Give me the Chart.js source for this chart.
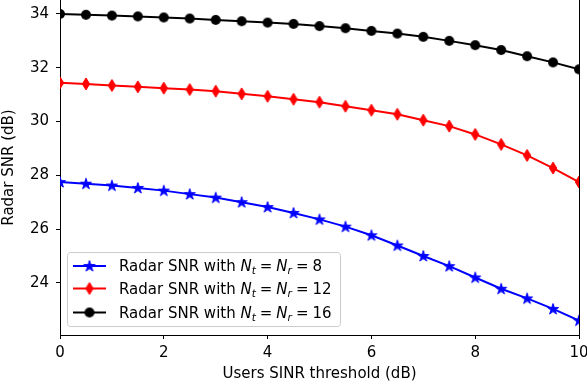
<!DOCTYPE html>
<html><head><meta charset="utf-8">
<script src="https://cdn.jsdelivr.net/npm/chart.js@4.4.0/dist/chart.umd.min.js"></script>
<style>html,body{margin:0;padding:0;background:#fff;}canvas{display:block;}</style>
</head><body>
<div style="width:587px;height:389px;"><canvas id="c" width="587" height="389"></canvas></div>
<script>
const xValues = [0,0.5,1,1.5,2,2.5,3,3.5,4,4.5,5,5.5,6,6.5,7,7.5,8,8.5,9,9.5,10];
const snr8  = [27.75,27.69,27.62,27.53,27.43,27.30,27.17,27.00,26.82,26.60,26.36,26.09,25.77,25.39,25.00,24.62,24.20,23.78,23.42,23.03,22.60];
const snr12 = [31.44,31.40,31.34,31.29,31.24,31.19,31.13,31.03,30.94,30.83,30.72,30.57,30.42,30.27,30.05,29.83,29.52,29.15,28.74,28.27,27.75];
const snr16 = [34.00,33.97,33.94,33.91,33.87,33.83,33.78,33.73,33.68,33.63,33.55,33.47,33.37,33.27,33.15,33.00,32.84,32.66,32.43,32.20,31.94];
const xTicks = [0,2,4,6,8,10];
const yTicks = [24,26,28,30,32,34];
const antennaCounts = ['8','12','16'];
const legendPrefix = 'Radar SNR with ';
const xTitle = 'Users SINR threshold (dB)';
const yTitle = 'Radar SNR (dB)';

const FONT = '"DejaVu Sans", sans-serif';

function makeStar(color){
  const c = document.createElement('canvas'); c.width = 14; c.height = 14;
  const g = c.getContext('2d'); const R = 5.8, r = R*0.381966;
  g.beginPath();
  for(let i=0;i<10;i++){
    const a = -Math.PI/2 + i*Math.PI/5; const rr = i%2===0?R:r;
    const px = 7 + rr*Math.cos(a), py = 7.4 + rr*Math.sin(a);
    if(i===0) g.moveTo(px,py); else g.lineTo(px,py);
  }
  g.closePath(); g.fillStyle = color; g.fill(); g.strokeStyle = color; g.lineWidth = 1; g.stroke();
  return c;
}
function makeDiamond(color){
  const c = document.createElement('canvas'); c.width = 10; c.height = 14;
  const g = c.getContext('2d');
  g.beginPath(); g.moveTo(5,1); g.lineTo(8.7,7); g.lineTo(5,13); g.lineTo(1.3,7); g.closePath();
  g.fillStyle = color; g.fill(); g.strokeStyle = color; g.lineWidth = 1; g.stroke();
  return c;
}
function makeCircle(color){
  const c = document.createElement('canvas'); c.width = 12; c.height = 12;
  const g = c.getContext('2d');
  g.beginPath(); g.arc(6,6,5,0,Math.PI*2); g.fillStyle = color; g.fill();
  return c;
}
const markers = [makeStar('#0000ff'), makeDiamond('#ff0000'), makeCircle('#000000')];
const colors = ['#0000ff','#ff0000','#000000'];
const series = [snr8, snr12, snr16];

const datasets = series.map((s,i)=>({
  label: legendPrefix + 'Nt = Nr = ' + antennaCounts[i],
  data: xValues.map((x,j)=>({x:x, y:s[j]})),
  borderColor: colors[i], backgroundColor: colors[i],
  borderWidth: 2, pointStyle: markers[i], pointRadius: 5, pointHoverRadius: 5,
  tension: 0, fill: false
}));

const legendPlugin = {
  id: 'mplLegend',
  afterDatasetsDraw(chart){
    const ctx = chart.ctx; ctx.save();
    const bx = 67.5, by = 252.5, bw = 273, bh = 74, rad = 3;
    ctx.beginPath();
    ctx.moveTo(bx+rad,by); ctx.lineTo(bx+bw-rad,by); ctx.quadraticCurveTo(bx+bw,by,bx+bw,by+rad);
    ctx.lineTo(bx+bw,by+bh-rad); ctx.quadraticCurveTo(bx+bw,by+bh,bx+bw-rad,by+bh);
    ctx.lineTo(bx+rad,by+bh); ctx.quadraticCurveTo(bx,by+bh,bx,by+bh-rad);
    ctx.lineTo(bx,by+rad); ctx.quadraticCurveTo(bx,by,bx+rad,by); ctx.closePath();
    ctx.fillStyle = 'rgba(255,255,255,0.8)'; ctx.fill();
    ctx.strokeStyle = '#cccccc'; ctx.lineWidth = 1; ctx.stroke();
    const rows = [266, 288.5, 312.5];
    const bases = [270.5, 293.8, 317.7];
    rows.forEach((cy,i)=>{
      ctx.strokeStyle = colors[i]; ctx.lineWidth = 2;
      ctx.beginPath(); ctx.moveTo(73, cy); ctx.lineTo(106, cy); ctx.stroke();
      const m = markers[i]; ctx.drawImage(m, 89.5 - m.width/2, cy - m.height/2);
      ctx.fillStyle = '#000'; ctx.textBaseline = 'alphabetic'; ctx.textAlign = 'left';
      const base = bases[i]; let x = 119;
      const normal = '15px ' + FONT, ital = 'italic 15px ' + FONT, sub = 'italic 10.5px ' + FONT;
      const put = (t, f, dy) => { ctx.font = f; ctx.fillText(t, x, base + (dy||0)); x += ctx.measureText(t).width; };
      put(legendPrefix, normal);
      put('N', ital); put('t', sub, 3);
      x += 4; put('=', normal); x += 4;
      put('N', ital); put('r', sub, 3);
      x += 4; put('=', normal); x += 4;
      put(antennaCounts[i], normal);
    });
    ctx.restore();
  }
};
const rightSpine = {
  id: 'rightSpine',
  afterDraw(chart){
    const a = chart.chartArea, ctx = chart.ctx; ctx.save();
    ctx.strokeStyle = '#000'; ctx.lineWidth = 1;
    ctx.beginPath(); ctx.moveTo(Math.round(a.right)+0.5, a.top); ctx.lineTo(Math.round(a.right)+0.5, a.bottom); ctx.stroke();
    ctx.restore();
  }
};
const fixTop = {
  id: 'fixTop',
  afterLayout(chart){
    const a = chart.chartArea; const y = chart.scales.y;
    a.top = 0; a.height = a.bottom - a.top;
    y.top = 0; y.height = y.bottom - y.top; y.configure();
  }
};

Chart.defaults.font.family = FONT;
Chart.defaults.font.size = 15;
Chart.defaults.color = '#000';

new Chart(document.getElementById('c'), {
  type: 'line',
  data: { datasets },
  plugins: [fixTop, legendPlugin, rightSpine],
  options: {
    responsive: false, animation: false, devicePixelRatio: 1,
    layout: { padding: 0 },
    plugins: { legend: { display: false }, tooltip: { enabled: false } },
    scales: {
      x: {
        type: 'linear', min: 0, max: 10,
        afterBuildTicks: s => { s.ticks = xTicks.map(v=>({value:v})); },
        afterFit: s => { s.height = 54; s.paddingRight = 8; s.paddingLeft = 0; },
        ticks: { padding: 5, maxRotation: 0, autoSkip: false, callback: v => String(v) },
        grid: { display: true, drawOnChartArea: false, drawTicks: true, tickLength: 4, color: '#000', lineWidth: 1 },
        border: { display: true, color: '#000', width: 1 },
        title: { display: true, text: xTitle, padding: { top: 0, bottom: 6 }, font: { size: 15 } }
      },
      y: {
        type: 'linear', min: 22.06, max: 34.52,
        afterBuildTicks: s => { s.ticks = yTicks.map(v=>({value:v})); },
        afterFit: s => { s.width = 60; s.paddingTop = 0; s.paddingBottom = 0; },
        ticks: { padding: 7, autoSkip: false, callback: v => String(v) },
        grid: { display: true, drawOnChartArea: false, drawTicks: true, tickLength: 4, color: '#000', lineWidth: 1 },
        border: { display: true, color: '#000', width: 1 },
        title: { display: true, text: yTitle, padding: { top: 0, bottom: 6 }, font: { size: 15 } }
      }
    }
  }
});
</script>
</body></html>
